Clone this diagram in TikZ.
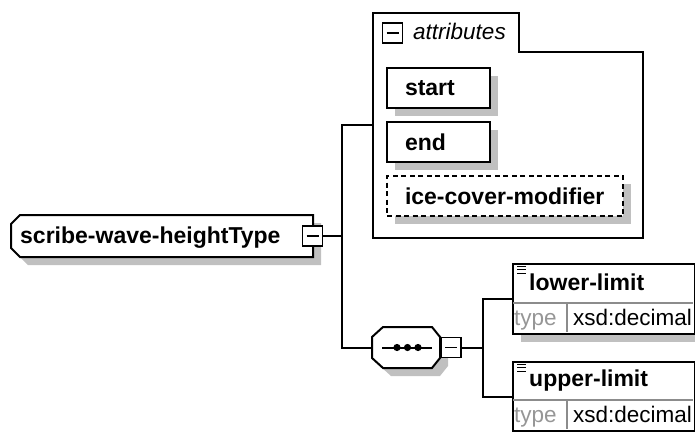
\documentclass[tikz,border=0pt]{standalone}
\usepackage{fontspec}
\setmainfont{Liberation Sans}
\usetikzlibrary{shadows}
\definecolor{shadowgray}{RGB}{192,192,192}
\definecolor{typegray}{RGB}{150,150,150}
\definecolor{divgray}{RGB}{140,140,140}
\begin{document}
\begin{tikzpicture}[x=1pt,y=-1pt,
  conn/.style={line width=2pt},
  outline/.style={draw=black, line width=2pt, fill=white},
  lab/.style={font=\fontsize{23}{26}\selectfont\bfseries, inner sep=0pt, anchor=base west},
  reglab/.style={font=\fontsize{22.5}{26}\selectfont, inner sep=0pt, anchor=base west},
  typelab/.style={reglab, text=typegray},
  pmbox/.style={draw, line width=1.8pt, fill=white, minimum width=20pt, minimum height=20pt, inner sep=0pt,
    path picture={\draw[line width=1.5pt] ([xshift=4pt]path picture bounding box.west) -- ([xshift=-4pt]path picture bounding box.east);}},
  dshadow/.style={drop shadow={shadow xshift=8pt, shadow yshift=-8pt, opacity=1, fill=shadowgray}},
  attbox/.style={draw, line width=2pt, fill=white, anchor=north west, minimum height=40pt, inner ysep=0pt, inner xsep=18pt, text width=#1, align=left, font=\fontsize{23}{26}\selectfont\bfseries, dshadow},
  elbox/.style={draw, line width=2pt, fill=white, anchor=north west, minimum width=182pt, minimum height=#1, inner sep=0pt},
  divider/.style={draw=divgray, line width=1.2pt},
  seqshape/.style={draw=none, minimum width=68pt, minimum height=41pt, inner sep=0pt}
]
\useasboundingbox (0,0) rectangle (695,431);

% ---------- root complex type ----------
\fill[shadowgray] (28,223) -- (321,223) -- (321,265) -- (28,265) -- (19,256) -- (19,232) -- cycle;
\draw[outline] (20,215) -- (313,215) -- (313,257) -- (20,257) -- (11,248) -- (11,224) -- cycle;
\node[lab] (root) at (20,243) {scribe-wave-heightType};
\node[pmbox] (rootpm) at (312.5,236) {};

% ---------- attributes group ----------
\draw[outline] (373,13) -- (519,13) -- (519,52) -- (643,52) -- (643,238) -- (373,238) -- cycle;
\node[pmbox] (attrpm) at (392.5,33) {};
\node[font=\fontsize{22.5}{26}\selectfont\itshape, inner sep=0pt, anchor=base west] (attrlabel) at (413,39) {attributes};
\coordinate (attrin) at (373,125);

\node[attbox=67pt] (start) at (386,67) {start};
\node[attbox=67pt] (end) at (386,121) {end};
\node[attbox=200pt, dashed, dash pattern=on 5pt off 3.5pt] (ice) at (386,175) {ice-cover-modifier};

% ---------- sequence compositor ----------
\fill[shadowgray] (391,335) -- (440,335) -- (448,345) -- (448,366) -- (440,376) -- (391,376) -- (380,366) -- (380,345) -- cycle;
\draw[outline] (383,327) -- (432,327) -- (440,337) -- (440,358) -- (432,368) -- (383,368) -- (372,358) -- (372,337) -- cycle;
\node[seqshape] (seq) at (406,347.5) {};
\draw[line width=2pt] (382,347.5) -- (432,347.5);
\foreach \dx [count=\i] in {397,407.5,418} {
  \fill (\dx,347.5) circle (3.6pt);
}
\node[pmbox] (seqpm) at (451,347.5) {};

% ---------- connectors ----------
\coordinate (j1) at (342,236);
\coordinate (j2) at (483,347.5);
\draw[conn] (rootpm.east) -- (j1);
\draw[conn] (attrin) -| (j1) |- (seq.west);
\draw[conn] (seqpm.east) -- (j2);

% ---------- elements ----------
\node[elbox=70pt, dshadow] (lower) at (512,263) {};
\draw[divider] (513,303) -- (693,303);
\draw[divider] (567,303) -- (567,332);
\foreach \yy in {266,269.5,273} \draw[line width=1pt] (517,\yy) -- (526,\yy);
\node[lab] (lowerlab) at (529,290) {lower-limit};
\node[typelab] (lowertype) at (514,325) {type};
\node[reglab] (lowerval) at (573,325) {xsd:decimal};

\node[elbox=69pt, dshadow] (upper) at (512,361) {};
\draw[divider] (513,400) -- (693,400);
\draw[divider] (567,400) -- (567,429);
\foreach \yy in {364,367.5,371} \draw[line width=1pt] (517,\yy) -- (526,\yy);
\node[lab] (upperlab) at (529,386) {upper-limit};
\node[typelab] (uppertype) at (514,422) {type};
\node[reglab] (upperval) at (573,422) {xsd:decimal};

\draw[conn] (lower.west) -| (j2) |- (upper.west);
\end{tikzpicture}
\end{document}
